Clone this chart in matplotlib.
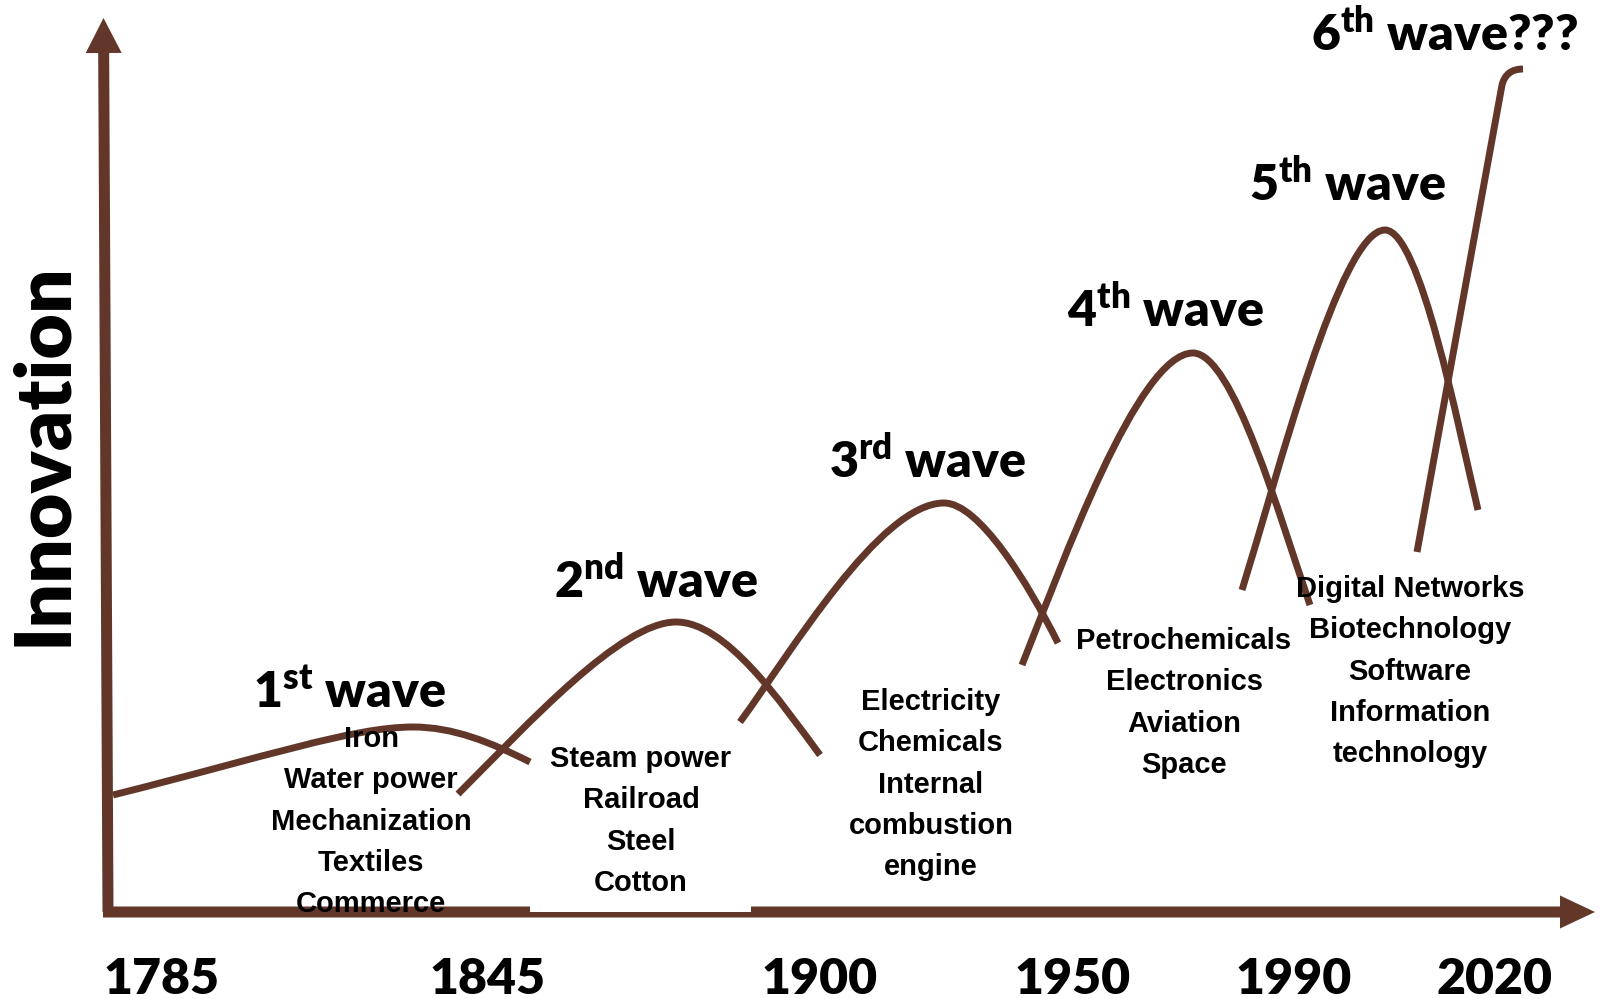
import matplotlib.pyplot as plt
from matplotlib.path import Path
from matplotlib.patches import PathPatch, Rectangle

# Year labels along the time axis
years = ['1785', '1845', '1900', '1950', '1990', '2020']
year_x = [162, 488, 820, 1073, 1294, 1495]

# Wave titles
wave_num = ['1', '2', '3', '4', '5', '6']
wave_suffix = ['st', 'nd', 'rd', 'th', 'th', 'th']
wave_tail = [' wave', ' wave', ' wave', ' wave', ' wave', ' wave???']
wave_label_x = [349, 656, 928, 1166, 1348, 1445]
wave_label_y = [291, 401, 521, 672, 798, 948]

# Technologies for each wave
tech = [
    ['Iron', 'Water power', 'Mechanization', 'Textiles', 'Commerce'],
    ['Steam power', 'Railroad', 'Steel', 'Cotton'],
    ['Electricity', 'Chemicals', 'Internal', 'combustion', 'engine'],
    ['Petrochemicals', 'Electronics', 'Aviation', 'Space'],
    ['Digital Networks', 'Biotechnology', 'Software', 'Information', 'technology'],
]
tech_x = [371, 641, 931, 1184, 1410]
tech_y = [252, 232, 289, 350, 402]

# Wave curves: start, handles, peak, handles, end (innovation is y)
wave_x = [
    [113, 263, 353, 413, 453, 490, 530],
    [458, 528, 621, 676, 726, 780, 820],
    [740, 790, 880, 944, 979, 1028, 1058],
    [1022, 1062, 1138, 1193, 1233, 1280, 1310],
    [1242, 1277, 1340, 1385, 1420, 1458, 1478],
]
wave_y = [
    [204, 241.5, 272, 272, 272, 257, 237],
    [205, 275, 377, 377, 377, 298, 244],
    [277, 345, 496, 496, 496, 416, 356],
    [334, 434, 646, 646, 646, 481, 394],
    [409, 521, 769, 769, 769, 573, 489],
]
# 6th wave: still rising
wave6_x = [1417, 1502, 1506, 1523]
wave6_y = [447, 914, 930, 930]

brown = '#62372A'

plt.rcParams['mathtext.fontset'] = 'custom'
plt.rcParams['mathtext.rm'] = 'Lato:weight=heavy'
plt.rcParams['mathtext.bf'] = 'Lato:weight=heavy'
plt.rcParams['mathtext.it'] = 'Lato:weight=heavy'

fig = plt.figure(figsize=(16, 9.99), dpi=100)
ax = fig.add_axes([0, 0, 1, 1])
ax.set_xlim(0, 1600)
ax.set_ylim(0, 999)
ax.axis('off')

# axes as arrows
ax.arrow(108, 87, -4.5, 894, width=11, head_width=36, head_length=35,
         length_includes_head=True, color=brown, lw=0, zorder=2)
ax.arrow(103, 87, 1492, 0, width=11, head_width=33, head_length=35,
         length_includes_head=True, color=brown, lw=0, zorder=2)

# white box behind the 2nd wave list
ax.add_patch(Rectangle((530, 87), 221, 172, facecolor='white', edgecolor='none', zorder=3))

# waves
for xs, ys in zip(wave_x, wave_y):
    codes = [Path.MOVETO] + [Path.CURVE4] * 6
    p = Path(list(zip(xs, ys)), codes)
    ax.add_patch(PathPatch(p, facecolor='none', edgecolor=brown, lw=5, capstyle='butt', zorder=4))

codes6 = [Path.MOVETO, Path.LINETO, Path.CURVE3, Path.CURVE3]
ax.add_patch(PathPatch(Path(list(zip(wave6_x, wave6_y)), codes6), facecolor='none',
                       edgecolor=brown, lw=5, capstyle='butt', zorder=4))

# wave titles
for i in range(6):
    s = wave_num[i] + r'$^{\mathrm{' + wave_suffix[i] + '}}$' + wave_tail[i]
    ax.text(wave_label_x[i], wave_label_y[i], s, ha='center', va='baseline',
            fontsize=36, fontweight='heavy', family='Lato', zorder=5)

# technology lists
for i, items in enumerate(tech):
    for j, t in enumerate(items):
        ax.text(tech_x[i], tech_y[i] - j * 41.3, t, ha='center', va='baseline',
                fontsize=21, fontweight='bold', family='Liberation Sans', zorder=5)

# years
for x, yr in zip(year_x, years):
    ax.text(x, 5, yr, ha='center', va='baseline', fontsize=36,
            fontweight='heavy', family='Lato', zorder=5)

ax.text(66, 545, 'Innovation', rotation=90, rotation_mode='anchor',
        ha='center', va='baseline', fontsize=56.5, fontweight='heavy', family='Lato')

plt.savefig('out.png', dpi=100)
